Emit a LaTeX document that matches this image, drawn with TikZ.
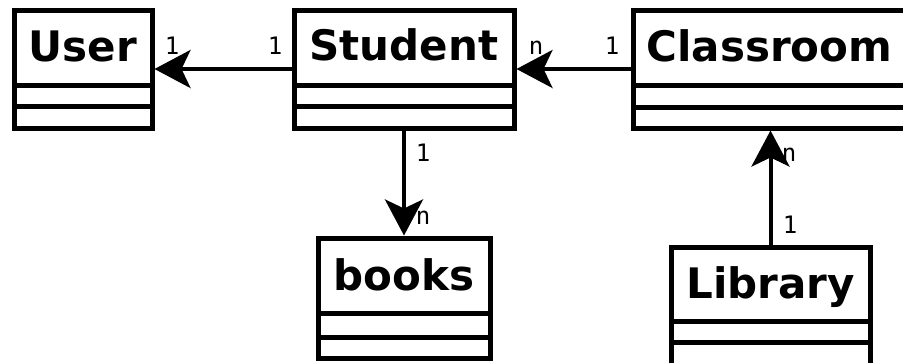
\documentclass[tikz,border=0pt]{standalone}
\usepackage{fontspec}
\setmainfont{DejaVu Sans}
\newfontfamily\monof{DejaVu Sans Mono}
\usetikzlibrary{arrows.meta,fit,calc}
\tikzset{
 clsbox/.style={draw, line width=5pt, inner sep=0pt, rectangle},
 clssep/.style={line width=5pt},
 clstitle/.style={font=\fontsize{42}{42}\selectfont\bfseries, anchor=base, inner sep=0pt},
 multlbl/.style={font=\monof\fontsize{24}{24}\selectfont, inner sep=0pt},
 assoc/.style={line width=4pt, -{Stealth[length=36pt,width=38pt,inset=9pt]}}
}
\newcommand\umlcls[9]{%
 \node[clsbox, fit={(#2,#3) (#4,#5)}] (#1) {};
 \draw[clssep] (#2,#6) -- (#4,#6);
 \draw[clssep] (#2,#7) -- (#4,#7);
 \node[clstitle] (#1-t) at ({(#2+#4)/2},#8) {#9};
}
\begin{document}
\begin{tikzpicture}[x=1pt,y=-1pt]
\useasboundingbox (0,0) rectangle (903,362);
\clip (0,0) rectangle (903,362);
\umlcls{user}{14}{10}{152}{128}{85}{106}{61}{User}
\umlcls{student}{294}{10}{514}{128}{85}{106}{60}{Student}
\umlcls{classroom}{633}{10}{906}{128}{85}{107}{61}{Classroom}
\umlcls{books}{318}{238}{490}{358}{313}{337}{290}{books}
\umlcls{library}{671}{247}{870}{372}{321}{342}{298}{Library}
\draw[assoc] (student.west) -- (user.east);
\draw[assoc] (classroom.west) -- (student.east);
\draw[assoc] (student.south) -- (books.north);
\draw[assoc] (library.north) -- (library.north |- classroom.south);
\node[multlbl] (m1) at (172,46) {1};
\node[multlbl] (m2) at (275,46) {1};
\node[multlbl] (m3) at (536,48) {n};
\node[multlbl] (m4) at (612,46) {1};
\node[multlbl] (m5) at (423,153) {1};
\node[multlbl] (m6) at (423,218) {n};
\node[multlbl] (m7) at (789,155) {n};
\node[multlbl] (m8) at (790,225) {1};
\end{tikzpicture}
\end{document}
